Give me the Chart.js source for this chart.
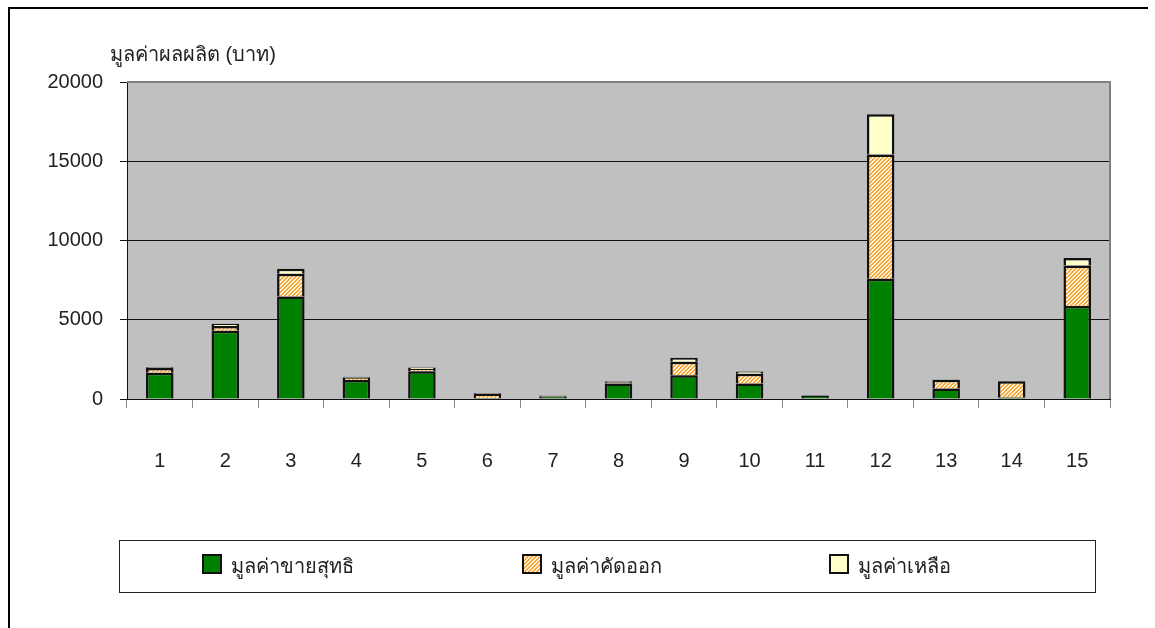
<!DOCTYPE html>
<html>
<head>
<meta charset="utf-8">
<script src="https://cdn.jsdelivr.net/npm/chart.js@4.4.1/dist/chart.umd.min.js"></script>
<style>
html,body{margin:0;padding:0;background:#fff;}
#wrap{width:1155px;height:628px;position:relative;}
</style>
</head>
<body>
<div id="wrap"><canvas id="c" width="1155" height="628"></canvas></div>
<script>
// ---- data ----
const categories = ["1","2","3","4","5","6","7","8","9","10","11","12","13","14","15"];
const netSales = [1650, 4300, 6470, 1200, 1750, 60, 150, 980, 1500, 980, 220, 7590, 660, 100, 5860];
const sortedOut = [300, 300, 1430, 150, 150, 250, 40, 80, 850, 620, 10, 7830, 550, 1020, 2570];
const remaining = [50, 150, 320, 60, 80, 50, 30, 60, 250, 130, 10, 2540, 20, 10, 460];
const seriesNames = ["มูลค่าขายสุทธิ", "มูลค่าคัดออก", "มูลค่าเหลือ"];
const yTitle = "มูลค่าผลผลิต (บาท)";
const yTicks = [0, 5000, 10000, 15000, 20000];

const FONT = '"Liberation Sans", Arial, sans-serif';

function makeHatch() {
  const p = document.createElement('canvas');
  p.width = 4; p.height = 4;
  const g = p.getContext('2d');
  g.fillStyle = '#fff1d6';
  g.fillRect(0, 0, 4, 4);
  g.fillStyle = '#f6a83a';
  for (let i = 0; i < 4; i++) {
    g.fillRect((3 - i) % 4, i, 1, 1);
    g.fillRect((4 - i) % 4, i, 1, 1);
  }
  return g.createPattern(p, 'repeat');
}
const hatch = makeHatch();
const colors = ['#008000', hatch, '#ffffcc'];

const bgPlugin = {
  id: 'bgPlugin',
  beforeDraw(chart) {
    const ctx = chart.ctx, a = chart.chartArea;
    ctx.save();
    ctx.fillStyle = '#fff';
    ctx.fillRect(0, 0, chart.width, chart.height);
    // outer frame
    ctx.strokeStyle = '#000';
    ctx.lineWidth = 2;
    ctx.beginPath();
    ctx.moveTo(9, 640); ctx.lineTo(9, 8); ctx.lineTo(1148, 8);
    ctx.stroke();
    // plot area
    ctx.fillStyle = '#c0c0c0';
    ctx.fillRect(a.left, a.top, a.right - a.left, a.bottom - a.top);
    ctx.restore();
  },
  beforeDatasetsDraw(chart) {
    const ctx = chart.ctx, a = chart.chartArea;
    ctx.save();
    ctx.strokeStyle = '#808080';
    ctx.lineWidth = 2;
    ctx.beginPath();
    ctx.moveTo(a.left, a.top); ctx.lineTo(a.right, a.top); ctx.lineTo(a.right, a.bottom);
    ctx.stroke();
    ctx.restore();
  },
  afterDraw(chart) {
    const ctx = chart.ctx;
    ctx.save();
    // y title
    ctx.fillStyle = '#222';
    ctx.font = '20px ' + FONT;
    ctx.textBaseline = 'alphabetic';
    ctx.textAlign = 'left';
    ctx.fillText(yTitle, 110, 61);
    // legend box
    ctx.strokeStyle = '#222';
    ctx.lineWidth = 1;
    ctx.strokeRect(119.5, 540.5, 976, 52);
    const xs = [202, 522, 829];
    chart.data.datasets.forEach((ds, i) => {
      ctx.fillStyle = ds.backgroundColor;
      ctx.fillRect(xs[i], 554, 20, 20);
      ctx.strokeStyle = '#111';
      ctx.lineWidth = 2;
      ctx.strokeRect(xs[i] + 1, 555, 18, 18);
      ctx.fillStyle = '#222';
      ctx.font = '20px ' + FONT;
      ctx.fillText(ds.label, xs[i] + 29, 573);
    });
    ctx.restore();
  }
};

new Chart(document.getElementById('c'), {
  type: 'bar',
  data: {
    labels: categories,
    datasets: seriesNames.map((n, i) => ({
      label: n,
      data: [netSales, sortedOut, remaining][i],
      backgroundColor: colors[i],
      borderColor: '#111',
      borderWidth: 2.5,
      categoryPercentage: 1,
      barPercentage: 0.42
    }))
  },
  options: {
    responsive: false,
    animation: false,
    layout: { padding: { left: 0, top: 82, right: 45, bottom: 0 } },
    plugins: { legend: { display: false }, tooltip: { enabled: false } },
    scales: {
      x: {
        stacked: true,
        offset: true,
        grid: { offset: true, drawOnChartArea: false, drawTicks: true, tickLength: 9, color: '#888', lineWidth: 1 },
        border: { color: '#111', width: 1 },
        ticks: { color: '#222', font: { family: FONT, size: 20 }, padding: 41 },
        afterFit(s) { s.height = 229; }
      },
      y: {
        stacked: true,
        min: 0, max: 20000,
        afterBuildTicks(s) { s.ticks = yTicks.map(v => ({ value: v })); },
        grid: { color: '#111', lineWidth: 1, drawTicks: true, tickLength: 7 },
        border: { color: '#111', width: 1 },
        ticks: { color: '#222', font: { family: FONT, size: 20 }, padding: 17, callback: v => String(v) },
        afterFit(s) { s.width = 127; }
      }
    }
  },
  plugins: [bgPlugin]
});
</script>
</body>
</html>
